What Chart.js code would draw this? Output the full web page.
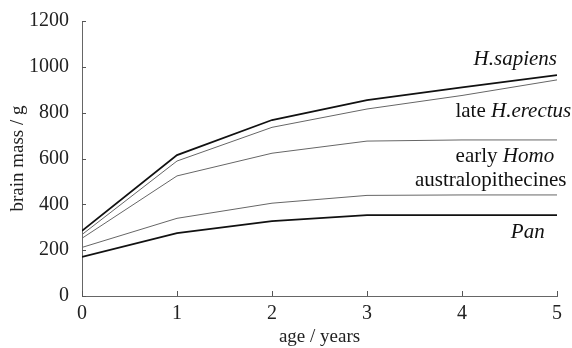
<!DOCTYPE html>
<html>
<head>
  <meta charset="utf-8">
  <title>brain mass vs age</title>
  <style>
    html, body { margin: 0; padding: 0; background: #fff; }
    .chart-box { width: 572px; height: 348px; position: relative; }
  </style>
</head>
<body>
  <div class="chart-box"><canvas id="chart"></canvas></div>

  <script src="https://cdn.jsdelivr.net/npm/chart.js"></script>
  <script>
    // data
    const ages = [0, 1, 2, 3, 4, 5];
    const sapiens = [284, 615, 768, 855, 910, 964];
    const lateErectus = [268, 589, 736, 816, 875, 943];
    const earlyHomo = [252, 524, 623, 676, 681, 681];
    const australopithecines = [212, 339, 405, 439, 441, 441];
    const pan = [171, 274, 327, 353, 353, 353];
    const yTicks = [0, 200, 400, 600, 800, 1000, 1200];

    // series names, split into [roman, italic] parts
    const seriesNames = [
      ['', 'H.sapiens'],
      ['late ', 'H.erectus'],
      ['early ', 'Homo'],
      ['australopithecines', ''],
      ['', 'Pan']
    ];

    const serif = '"Liberation Serif", "DejaVu Serif", serif';

    const toPoints = vals => ages.map((a, i) => ({ x: a, y: vals[i] }));

    const mkSet = (vals, thick) => ({
      data: toPoints(vals),
      borderColor: thick ? '#111' : '#666',
      borderWidth: thick ? 1.8 : 1,
      pointRadius: 0,
      tension: 0,
      fill: false
    });

    // where each name sits (right edge in x units, centre in y units)
    const namePlaces = [
      { x: 5.0, y: 1030 },
      { x: 5.15, y: 804 },
      { x: 4.97, y: 608 },
      { x: 5.1, y: 506 },
      { x: 4.87, y: 279 }
    ];

    const nameLabels = {
      id: 'nameLabels',
      afterDatasetsDraw(chart) {
        const ctx = chart.ctx;
        const xs = chart.scales.x, ys = chart.scales.y;
        ctx.save();
        ctx.fillStyle = '#111';
        ctx.textBaseline = 'middle';
        seriesNames.forEach((parts, i) => {
          const px = xs.getPixelForValue(namePlaces[i].x);
          const py = ys.getPixelForValue(namePlaces[i].y);
          const romanFont = '21px ' + serif;
          const italFont = 'italic 21px ' + serif;
          ctx.font = romanFont;
          const w1 = ctx.measureText(parts[0]).width;
          ctx.font = italFont;
          const w2 = ctx.measureText(parts[1]).width;
          let start = px - w1 - w2;
          ctx.textAlign = 'left';
          ctx.font = romanFont;
          ctx.fillText(parts[0], start, py);
          ctx.font = italFont;
          ctx.fillText(parts[1], start + w1, py);
        });
        ctx.restore();
      }
    };

    // small tick marks pointing into the plot
    const innerTicks = {
      id: 'innerTicks',
      afterDraw(chart) {
        const ctx = chart.ctx;
        const xs = chart.scales.x, ys = chart.scales.y;
        const area = chart.chartArea;
        ctx.save();
        ctx.strokeStyle = '#555';
        ctx.lineWidth = 1;
        ctx.beginPath();
        ages.forEach(a => {
          const px = Math.round(xs.getPixelForValue(a)) + 0.5;
          ctx.moveTo(px, area.bottom);
          ctx.lineTo(px, area.bottom - 5);
        });
        yTicks.forEach(v => {
          const py = Math.round(ys.getPixelForValue(v)) + 0.5;
          ctx.moveTo(area.left, py);
          ctx.lineTo(area.left + 4, py);
        });
        ctx.stroke();
        ctx.restore();
      }
    };

    new Chart(document.getElementById('chart').getContext('2d'), {
      type: 'line',
      data: {
        datasets: [
          mkSet(sapiens, true),
          mkSet(lateErectus, false),
          mkSet(earlyHomo, false),
          mkSet(australopithecines, false),
          mkSet(pan, true)
        ]
      },
      options: {
        responsive: true,
        maintainAspectRatio: false,
        animation: false,
        layout: { padding: { top: 21, right: 15, left: 0, bottom: 0 } },
        plugins: {
          legend: { display: false },
          tooltip: { enabled: false }
        },
        scales: {
          x: {
            type: 'linear',
            min: 0,
            max: 5,
            grid: { display: false },
            border: { display: true, color: '#666', width: 1 },
            ticks: {
              stepSize: 1,
              padding: 0,
              color: '#222',
              font: { family: serif, size: 20, lineHeight: 1 }
            },
            title: {
              display: true,
              text: 'age / years',
              color: '#222',
              padding: { top: 1, bottom: 0 },
              font: { family: serif, size: 19 }
            },
            afterFit(scale) { scale.height = 52; }
          },
          y: {
            min: 0,
            max: 1200,
            grid: { display: false },
            border: { display: true, color: '#666', width: 1 },
            ticks: {
              stepSize: 200,
              padding: 5,
              color: '#222',
              font: { family: serif, size: 20 },
              callback: v => String(v)
            },
            title: {
              display: true,
              text: 'brain mass / g',
              color: '#222',
              padding: { top: 7, bottom: 0 },
              font: { family: serif, size: 19 }
            },
            afterFit(scale) { scale.width = 82; }
          }
        }
      },
      plugins: [nameLabels, innerTicks]
    });
  </script>
</body>
</html>
